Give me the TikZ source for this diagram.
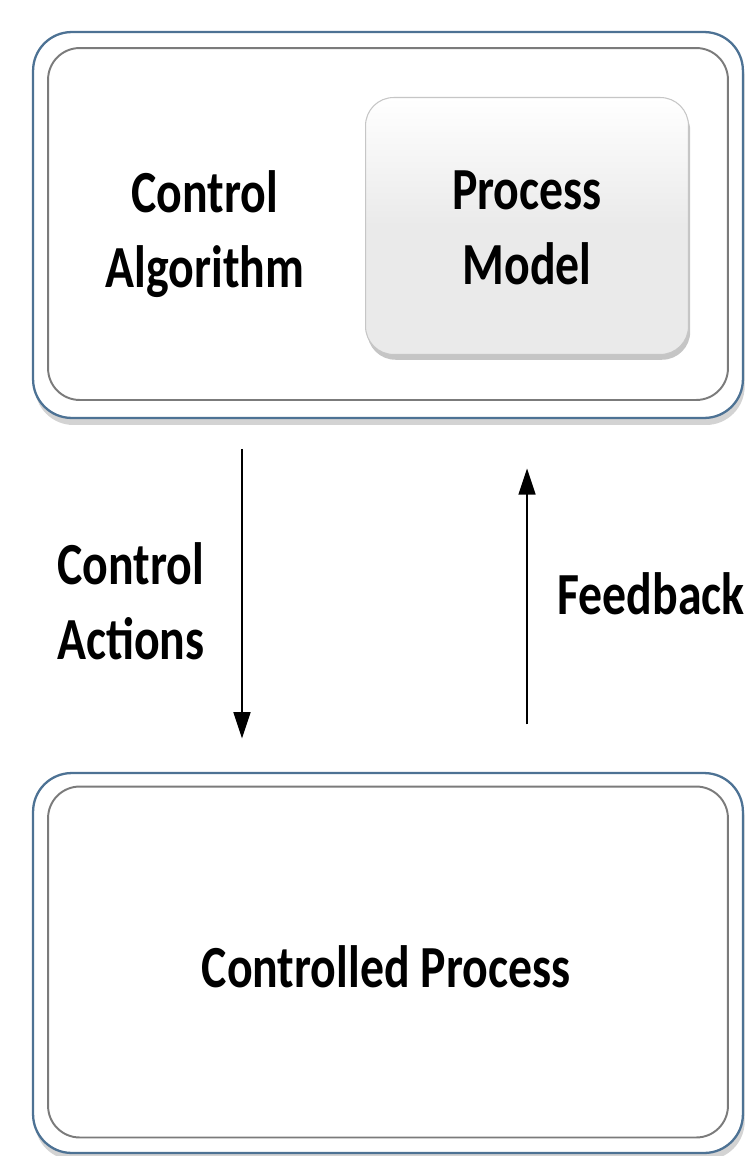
\documentclass[tikz,border=0pt]{standalone}
\usepackage{fontspec}
\setmainfont{Carlito}
\usepackage{graphicx}
\usepackage{tikz}
\usetikzlibrary{arrows.meta,shadows}
\definecolor{frameblue}{RGB}{77,114,148}
\definecolor{framegray}{RGB}{90,90,90}
\definecolor{modelgray}{RGB}{234,234,234}
% narrow bold label, one or more lines
\newcommand{\boxtxt}[2][c]{\scalebox{0.8}[1]{\begin{tabular}{@{}#1@{}}#2\end{tabular}}}

\begin{document}
\begin{tikzpicture}[x=0.02cm, y=-0.02cm, >={Triangle[length=15pt, width=9.5pt]},
  font=\fontsize{34}{42.5}\selectfont\bfseries,
  outerbox/.style={draw=frameblue, line width=1.3pt, rounded corners=22pt,
    fill=white, drop shadow={opacity=0.35, shadow xshift=1pt, shadow yshift=-4pt}},
  innerbox/.style={draw=framegray!80, line width=1.1pt, rounded corners=18pt},
  modelbox/.style={draw=gray!45, line width=0.6pt, rounded corners=16pt,
    top color=white, bottom color=modelgray, middle color=modelgray,
    drop shadow={opacity=0.45, shadow xshift=1pt, shadow yshift=-3pt}},
  lbl/.style={inner sep=0pt}]
\useasboundingbox (0,0) rectangle (750,1156);
% ---- controller (top) ----
\node[outerbox, minimum width=14.2cm, minimum height=7.72cm] (ctrl) at (388,225) {};
\node[innerbox, minimum width=13.6cm, minimum height=7.04cm] (ctrlin) at (388,224) {};
\node[lbl] (alg) at (205,235) {\boxtxt{Control\\Algorithm}};
\node[modelbox, minimum width=6.46cm, minimum height=5.14cm] (model) at (527,226) {};
\node[lbl] (modeltxt) at (527,232) {\boxtxt{Process\\Model}};

% ---- controlled process (bottom) ----
\node[outerbox, minimum width=14.2cm, minimum height=7.6cm] (plant) at (388,963) {};
\node[innerbox, minimum width=13.6cm, minimum height=7.02cm] (plantin) at (388,962) {};
\node[lbl] (planttxt) at (386,973) {\boxtxt{Controlled Process}};

% ---- control loop arrows ----
\draw[->, line width=1.5pt, shorten <=17pt, shorten >=19pt]
  ([xshift=-146*0.02cm]ctrl.south) -- ([xshift=-146*0.02cm]plant.north);
\draw[->, line width=1.5pt, shorten <=27pt, shorten >=28pt]
  ([xshift=139*0.02cm]plant.north) -- ([xshift=139*0.02cm]ctrl.south);
\node[lbl, anchor=west] (act) at (57,607) {\boxtxt[l]{Control\\Actions}};
\node[lbl, anchor=west] (fb) at (557,600) {\boxtxt{Feedback}};
\end{tikzpicture}
\end{document}
